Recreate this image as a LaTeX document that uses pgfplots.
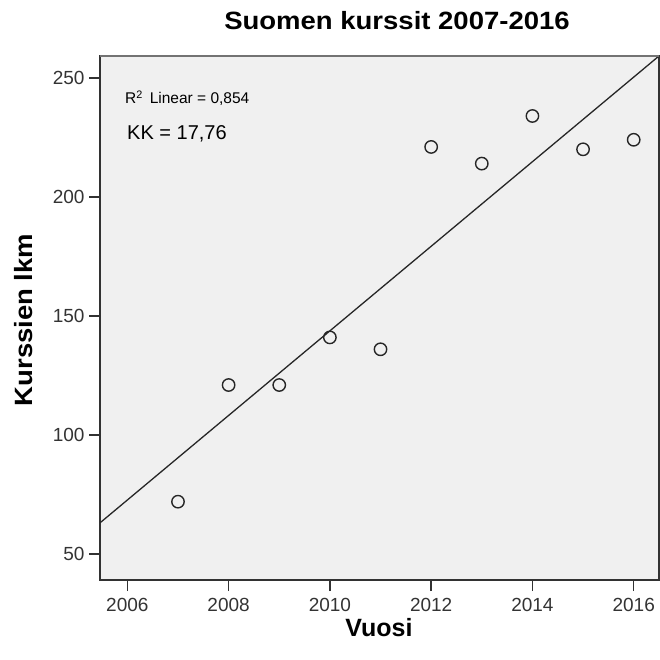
\documentclass[border=0pt]{standalone}
\usepackage{fontspec}
\setmainfont{Liberation Sans}
\newfontfamily\widesans[FakeStretch=1.1]{Liberation Sans}
\usepackage{pgfplots}
\pgfplotsset{compat=1.18}
\definecolor{bgc}{RGB}{240,240,240}
\definecolor{framec}{RGB}{50,50,50}
\begin{document}
\begin{tikzpicture}
\path[use as bounding box] (0pt,0pt) rectangle (659pt,660pt);
\begin{axis}[
  at={(100pt,80pt)}, anchor=south west,
  scale only axis, width=559pt, height=524pt,
  xmin=2005.46, xmax=2016.5,
  ymin=39.1, ymax=259.2,
  xtick={2006,2008,...,2016},
  ytick={50,100,...,250},
  xtick pos=bottom, ytick pos=left,
  tick align=outside,
  major tick length=11pt,
  tick style={line width=1.4pt, color=framec},
  axis line style={line width=1.3pt, color=framec},
  axis background/.style={fill=bgc},
  /pgf/number format/assume math mode=true,
  /pgf/number format/1000 sep={},
  tick label style={font=\fontsize{19}{21}\selectfont, color=black!80},
  xticklabel style={yshift=-4pt},
  yticklabel style={xshift=-1pt},
  clip=true,
]
\addplot[only marks, mark=o, mark size=6.2pt, mark options={line width=1.4pt, draw=black!85}]
  coordinates {(2007,72) (2008,121) (2009,121) (2010,141) (2011,136)
               (2012,221) (2013,214) (2014,234) (2015,220) (2016,224)};
\addplot[no marks, line width=1.3pt, color=black!85]
  coordinates {(2005.46,63.1) (2016.5,259.2)};
\end{axis}
\draw[line width=1.6pt, color=black!55] (100pt,604pt) -- (659pt,604pt);
\node[anchor=base, font=\widesans\fontsize{25}{28}\selectfont\bfseries] at (397pt,630pt) {Suomen kurssit 2007-2016};
\node[rotate=90, font=\widesans\fontsize{25}{28}\selectfont\bfseries] at (24pt,340pt) {Kurssien lkm};
\node[font=\fontsize{25}{28}\selectfont\bfseries] at (379pt,32pt) {Vuosi};
\node[anchor=base west, font=\fontsize{15.5}{17}\selectfont, inner sep=0pt] at (125pt,556pt) {R\textsuperscript{2}\, Linear = 0,854};
\node[anchor=base west, font=\fontsize{20}{22}\selectfont, inner sep=0pt] at (127pt,520pt) {KK = 17,76};
\end{tikzpicture}
\end{document}
